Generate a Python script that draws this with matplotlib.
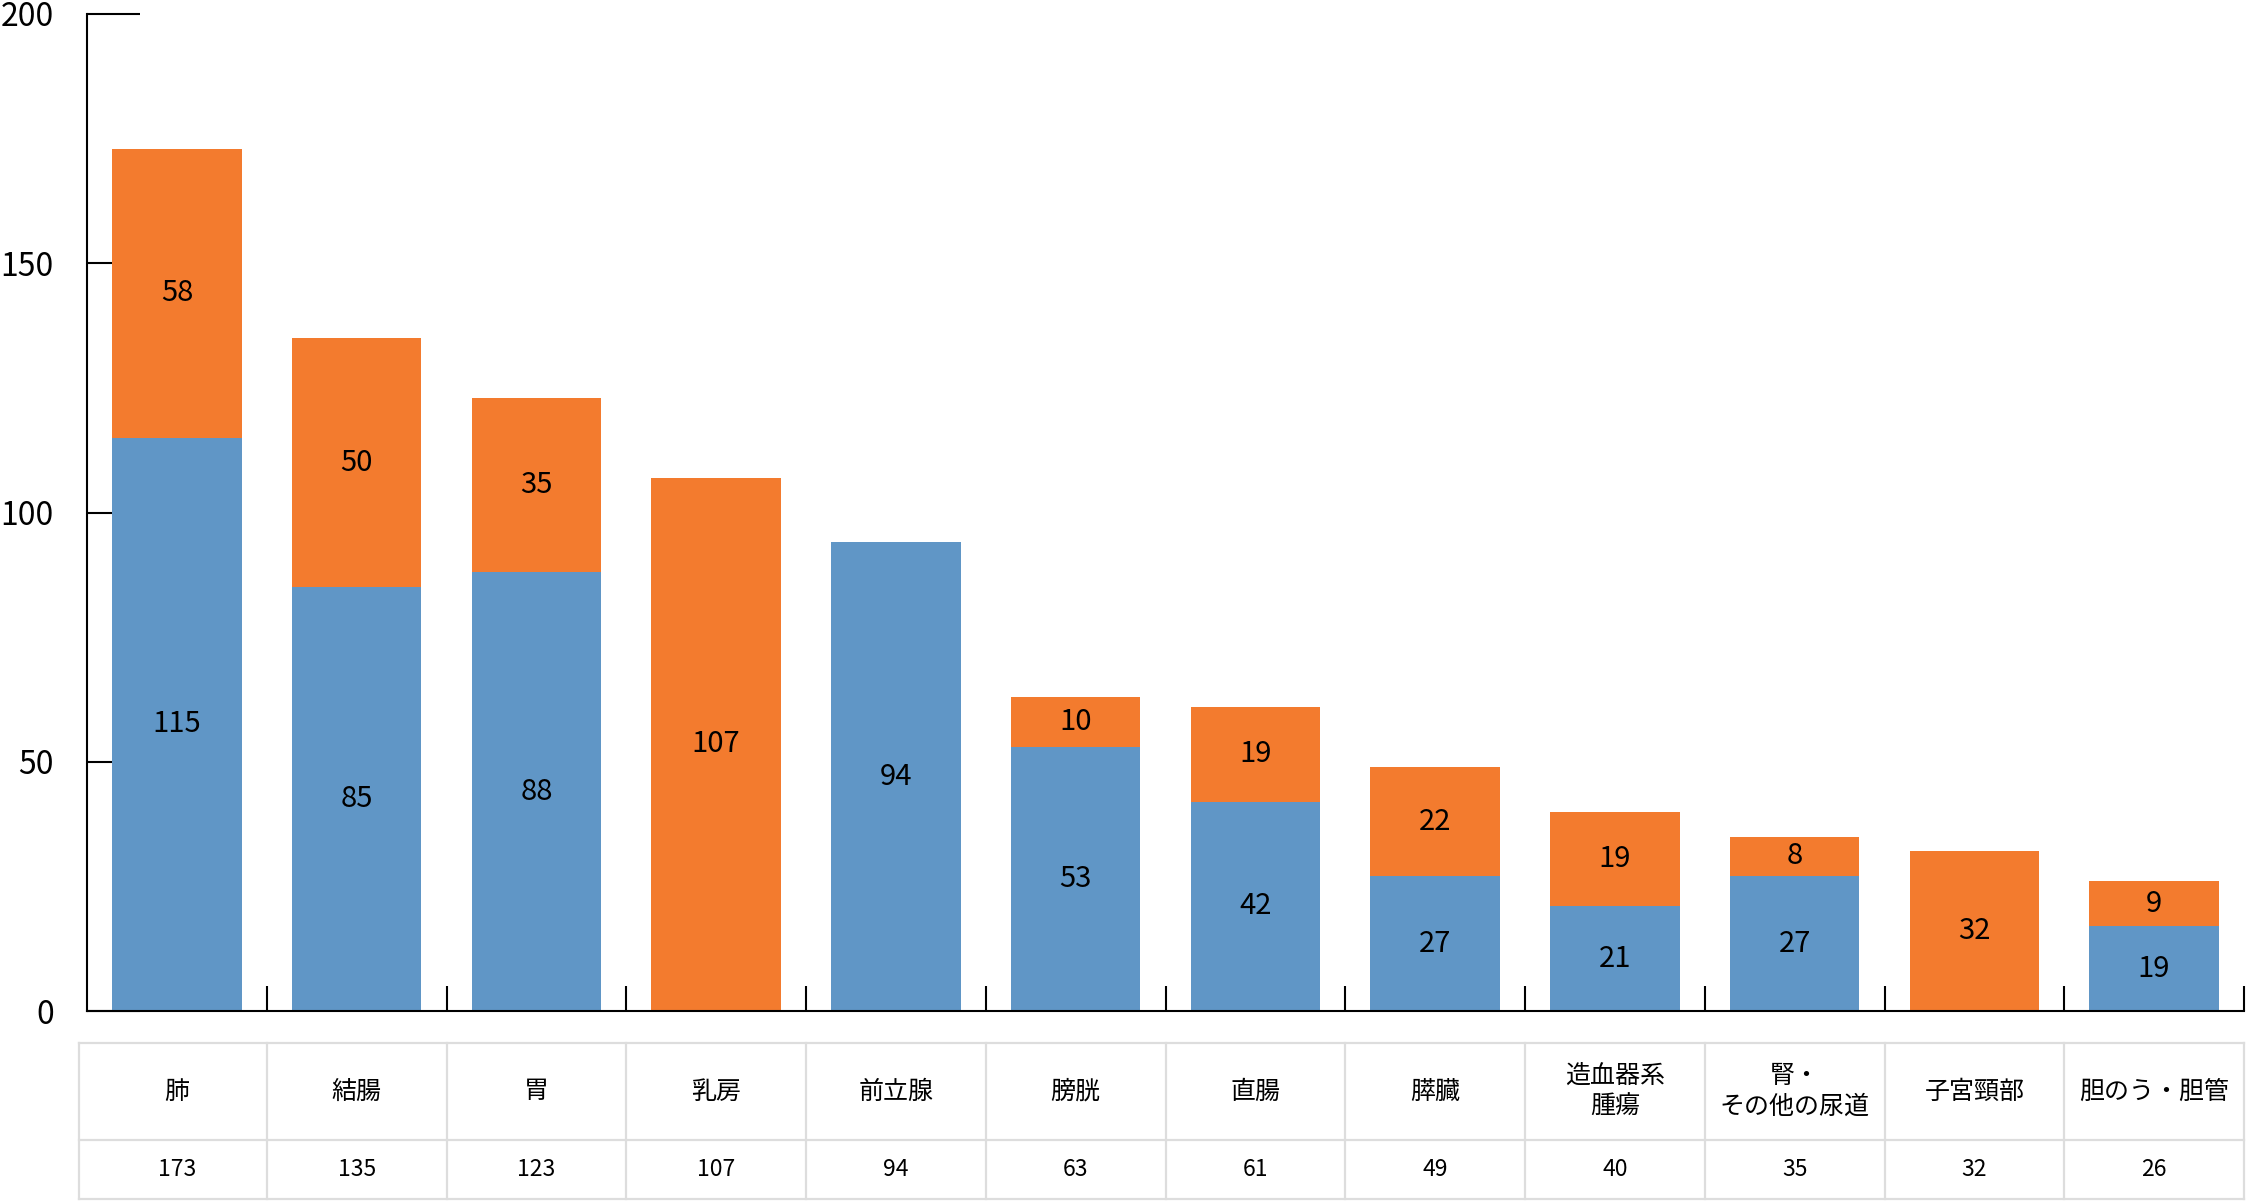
import numpy as np
import matplotlib
matplotlib.use("Agg")
import matplotlib.pyplot as plt
import matplotlib.transforms as mtransforms

plt.rcParams["font.family"] = ["Noto Sans CJK JP", "DejaVu Sans"]

# data
sites = ["肺", "結腸", "胃", "乳房", "前立腺", "膀胱", "直腸", "膵臓",
         "造血器系\n腫瘍", "腎・\nその他の尿道", "子宮頸部", "胆のう・胆管"]
# bar heights as drawn in the source (last blue segment is drawn at ~17)
lower_vals = [115, 85, 88, 0, 94, 53, 42, 27, 21, 27, 0, 17]
upper_vals = [58, 50, 35, 107, 0, 10, 19, 22, 19, 8, 32, 9]
# numbers printed inside the bars
lower_labels = ["115", "85", "88", "", "94", "53", "42", "27", "21", "27", "", "19"]
upper_labels = ["58", "50", "35", "107", "", "10", "19", "22", "19", "8", "32", "9"]
totals = [173, 135, 123, 107, 94, 63, 61, 49, 40, 35, 32, 26]
yticks = [0, 50, 100, 150, 200]

BLUE = "#6096C6"
ORANGE = "#F37B2E"
GRID = "#DDDDDD"

W, H = 2246, 1201
fig = plt.figure(figsize=(W / 100, H / 100), dpi=100)
ax = fig.add_axes([87 / W, 1 - 1011 / H, (2244 - 87) / W, (1011 - 14) / H])

x = np.arange(len(sites))
lower = np.array(lower_vals)
upper = np.array(upper_vals)

ax.bar(x, lower, width=0.72, color=BLUE, zorder=2)
ax.bar(x, upper, width=0.72, bottom=lower, color=ORANGE, zorder=2)

for i in range(len(sites)):
    if lower_labels[i]:
        ax.text(x[i], lower[i] / 2, lower_labels[i], ha="center", va="center",
                fontsize=21, zorder=3)
    if upper_labels[i]:
        ax.text(x[i], lower[i] + upper[i] / 2, upper_labels[i], ha="center",
                va="center", fontsize=21, zorder=3)

ax.set_xlim(-0.5, len(sites) - 0.5)
ax.set_ylim(0, 200)
ax.set_axisbelow(True)

for s in ["top", "right"]:
    ax.spines[s].set_visible(False)
for s in ["left", "bottom"]:
    ax.spines[s].set_linewidth(1.5)
    ax.spines[s].set_color("black")

ax.set_yticks(yticks)
ax.tick_params(axis="y", direction="in", length=38, width=1.5, pad=24,
               labelsize=23)
ax.set_xticks(np.arange(len(sites)) + 0.5)
ax.set_xticklabels([])
ax.tick_params(axis="x", direction="in", length=18, width=1.5)

# table under the chart
trans = mtransforms.blended_transform_factory(ax.transData, fig.transFigure)
y_top, y_mid, y_bot = 1 - 1043 / H, 1 - 1140 / H, 1 - 1199 / H
x_left, x_right = -0.545, len(sites) - 0.5

for yy in [y_top, y_mid, y_bot]:
    ax.plot([x_left, x_right], [yy, yy], color=GRID, lw=1.6,
            transform=trans, clip_on=False)
for xx in [x_left] + list(np.arange(len(sites)) + 0.5):
    ax.plot([xx, xx], [y_bot, y_top], color=GRID, lw=1.6,
            transform=trans, clip_on=False)

for i, name in enumerate(sites):
    ax.text(x[i], (y_top + y_mid) / 2, name, ha="center", va="center",
            fontsize=18, linespacing=1.25, transform=trans)
    ax.text(x[i], (y_mid + y_bot) / 2, str(totals[i]), ha="center",
            va="center", fontsize=16.5, transform=trans)

fig.savefig("out.png", dpi=100)
